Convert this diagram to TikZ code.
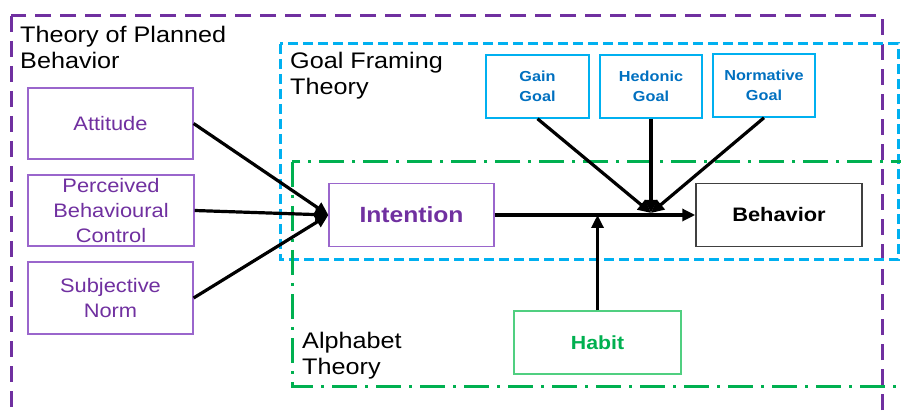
\documentclass[tikz,border=0pt]{standalone}
\usepackage{fontspec}
\setmainfont{Liberation Sans}[FakeStretch=1.12]
\usetikzlibrary{arrows.meta}
\definecolor{tpb}{HTML}{7030A0}
\definecolor{tpbbox}{HTML}{9A66CC}
\definecolor{gft}{HTML}{00B0F0}
\definecolor{goaltxt}{HTML}{0070C0}
\definecolor{alp}{HTML}{00B050}
\definecolor{habbox}{HTML}{50CF80}
\tikzset{
  pbox/.style={draw=tpbbox, line width=1.2pt, text=tpb, align=center, inner sep=0pt},
  gbox/.style={draw=gft, line width=1.5pt, text=goaltxt, align=center, inner sep=0pt, font=\fontsize{14.5}{19.5}\selectfont\bfseries},
  ttl/.style={anchor=north west, inner sep=0pt, align=left, font=\fontsize{22.5}{26}\selectfont},
  arr/.style={line width=3.2pt, -{Triangle[length=13pt,width=12pt]}},
  ln/.style={line width=3.2pt}
}
\begin{document}
\begin{tikzpicture}[x=1pt,y=-1pt]
\useasboundingbox (0,0) rectangle (901,411);
\clip (0,0) rectangle (901,411);
\fill[white] (0,0) rectangle (901,411);
% frames
\draw[tpb, line width=3pt, dash pattern=on 16pt off 9pt] (11,16) rectangle (882,440);
\draw[gft, line width=3pt, dash pattern=on 10pt off 5pt] (280,44) rectangle (898,260);
\draw[alp, line width=3pt, dash pattern=on 25pt off 8pt on 3pt off 8pt] (292,162) rectangle (930,386);
% frame titles
\node[ttl] (t1) at (20,26) {Theory of Planned\\Behavior};
\node[ttl] (t2) at (290,52) {Goal Framing\\Theory};
\node[ttl] (t3) at (302,332) {Alphabet\\Theory};
% TPB boxes
\node[pbox, minimum width=165pt, minimum height=71pt, font=\fontsize{19.5}{25}\selectfont] (att) at (110.5,123.5) {Attitude};
\node[pbox, minimum width=166pt, minimum height=71pt, font=\fontsize{19.5}{25}\selectfont] (pbc) at (111,210.5) {Perceived\\Behavioural\\Control};
\node[pbox, minimum width=165pt, minimum height=72pt, font=\fontsize{19.5}{25}\selectfont] (sn) at (110.5,298) {Subjective\\Norm};
\node[pbox, minimum width=165pt, minimum height=63pt, font=\fontsize{22}{26}\selectfont\bfseries] (int) at (411.5,215) {Intention};
% behavior
\node[draw=black!75, line width=1.5pt, minimum width=166pt, minimum height=63pt, inner sep=0pt, font=\fontsize{19.5}{22}\selectfont\bfseries] (beh) at (779,215) {Behavior};
% habit
\node[draw=habbox, line width=1.5pt, text=alp, minimum width=167pt, minimum height=63pt, inner sep=0pt, font=\fontsize{19}{22}\selectfont\bfseries] (hab) at (597.5,342.5) {Habit};
% goals
\node[gbox, minimum width=103pt, minimum height=63pt] (gain) at (537.5,86.5) {Gain\\Goal};
\node[gbox, minimum width=102pt, minimum height=63pt] (hed) at (651,86.5) {Hedonic\\Goal};
\node[gbox, minimum width=102pt, minimum height=63pt] (norm) at (764,85.5) {Normative\\Goal};
% connectors
\coordinate (conv) at (651,213);
\coordinate (junc) at (597.5,215);
\draw[arr] (att.east) -- (int.west);
\draw[arr] (pbc.east) -- (int.west);
\draw[arr] (sn.east) -- (int.west);
\draw[arr] (int.east) -- (beh.west);
\draw[arr] (gain.south) -- (conv);
\draw[arr] (hed.south) -- (conv);
\draw[arr] (norm.south) -- (conv);
\draw[arr] (hab.north) -- (junc);
\end{tikzpicture}
\end{document}
